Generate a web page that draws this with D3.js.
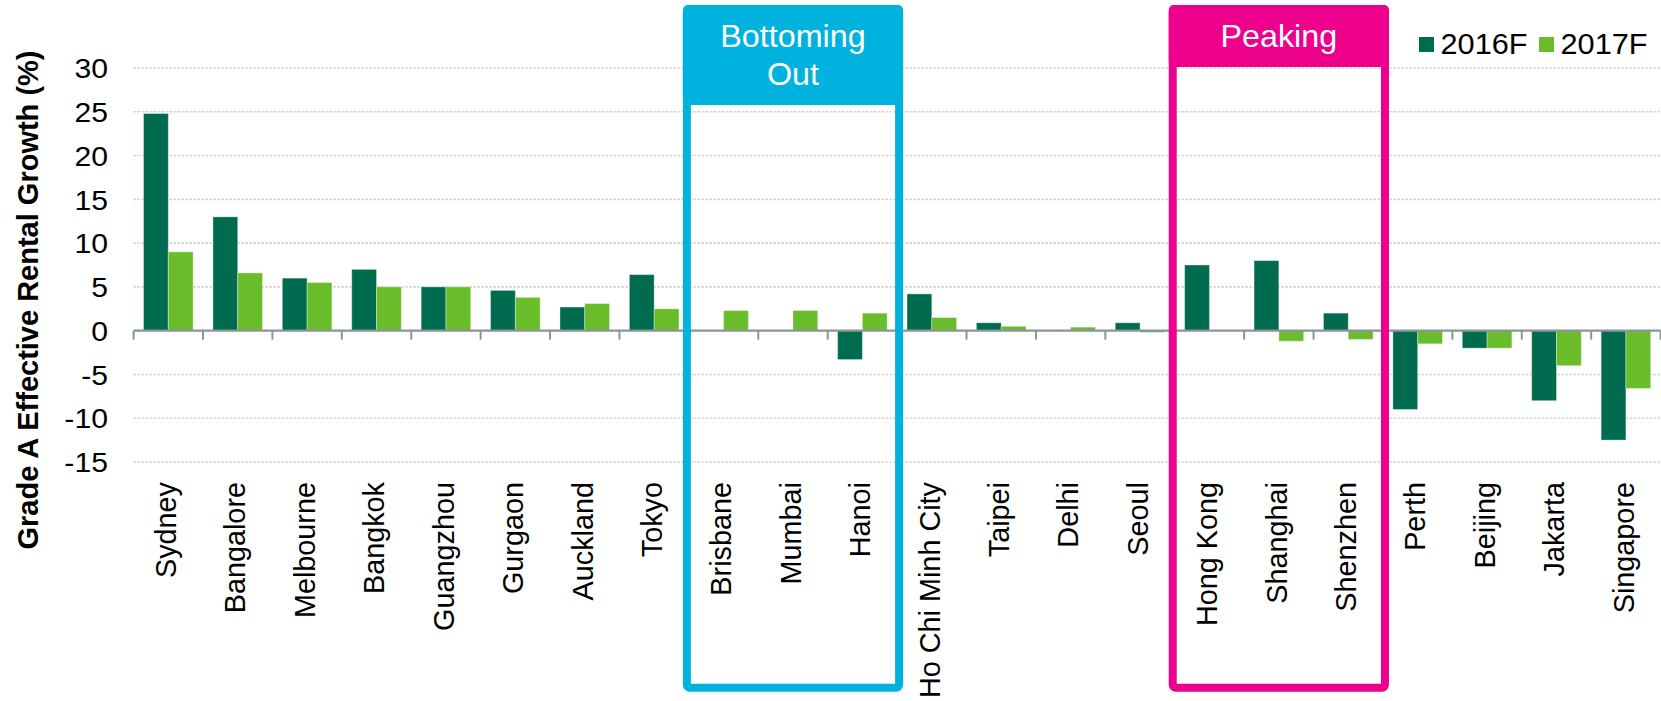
<!DOCTYPE html>
<html>
<head>
<meta charset="utf-8">
<script src="https://cdn.jsdelivr.net/npm/d3@7"></script>
<style>
  html, body { margin: 0; padding: 0; background: #fff; }
  svg { display: block; font-family: "Liberation Sans", Arial, sans-serif; }
</style>
</head>
<body>
<svg id="chart" width="1661" height="701"></svg>
<script>
// Grade A effective rental growth forecasts by city (%)
const cities = ["Sydney", "Bangalore", "Melbourne", "Bangkok", "Guangzhou", "Gurgaon", "Auckland", "Tokyo",
  "Brisbane", "Mumbai", "Hanoi", "Ho Chi Minh City", "Taipei", "Delhi", "Seoul",
  "Hong Kong", "Shanghai", "Shenzhen", "Perth", "Beijing", "Jakarta", "Singapore"];
const series = ["2016F", "2017F"];
const growth2016 = [24.8, 13.0, 6.0, 7.0, 5.0, 4.6, 2.7, 6.4, null, null, -3.3, 4.2, 0.9, null, 0.9, 7.5, 8.0, 2.0, -9.0, -2.0, -8.0, -12.5];
const growth2017 = [9.0, 6.6, 5.5, 5.0, 5.0, 3.8, 3.1, 2.5, 2.3, 2.3, 2.0, 1.5, 0.5, 0.4, -0.2, null, -1.2, -1.0, -1.5, -2.0, -4.0, -6.6];
const yTicks = [-15, -10, -5, 0, 5, 10, 15, 20, 25, 30];
const phases = [
  { label: ["Bottoming", "Out"], from: "Brisbane", to: "Hanoi", color: "#00B2DE", header: 105 },
  { label: ["Peaking"], from: "Hong Kong", to: "Shenzhen", color: "#EC008C", header: 67 }
];
const colors = { "2016F": "#006B4E", "2017F": "#6ABD2A" };

const svg = d3.select("#chart");
const plotLeft = 133.6, plotRight = 1660.6, plotTop = 68, plotBottom = 462;
const stretch = 1.06; // horizontal text widening

const x = d3.scaleBand().domain(cities).range([plotLeft, plotRight]).paddingInner(0).paddingOuter(0);
const xs = d3.scaleBand().domain(series).range([0, x.bandwidth()]).paddingInner(0).paddingOuter(0.4);
const y = d3.scaleLinear().domain([-15, 30]).range([plotBottom, plotTop]);

// dotted gridlines
svg.append("g").selectAll("line")
  .data(yTicks.filter(t => t !== 0))
  .join("line")
  .attr("x1", plotLeft).attr("x2", plotRight)
  .attr("y1", d => y(d)).attr("y2", d => y(d))
  .attr("stroke", "#c9c9c9").attr("stroke-width", 1.6)
  .attr("stroke-dasharray", "2,2");

// y tick labels
svg.append("g").selectAll("text")
  .data(yTicks)
  .join("text")
  .attr("transform", d => `translate(108,${y(d)}) scale(${stretch},1)`)
  .attr("dy", "0.36em")
  .attr("text-anchor", "end")
  .attr("font-size", 28.5)
  .attr("fill", "#000")
  .text(d => d);

// y axis title
svg.append("text")
  .attr("transform", "translate(38,300) rotate(-90)")
  .attr("text-anchor", "middle")
  .attr("font-size", 29)
  .attr("font-weight", "bold")
  .attr("fill", "#000")
  .text("Grade A Effective Rental Growth (%)");

// bars
const rows = cities.map((c, i) => ({ city: c, vals: [
  { key: "2016F", v: growth2016[i] },
  { key: "2017F", v: growth2017[i] }
] }));

const groups = svg.append("g").selectAll("g")
  .data(rows)
  .join("g")
  .attr("transform", d => `translate(${x(d.city)},0)`);

groups.selectAll("rect")
  .data(d => d.vals.filter(v => v.v !== null))
  .join("rect")
  .attr("x", d => xs(d.key))
  .attr("width", xs.bandwidth())
  .attr("y", d => y(Math.max(0, d.v)))
  .attr("height", d => Math.abs(y(d.v) - y(0)))
  .attr("fill", d => colors[d.key])
  .attr("stroke", "#ffffff").attr("stroke-opacity", 0.35).attr("stroke-width", 1);

// zero axis with category boundary ticks
const axisColor = "#8a959a";
svg.append("line")
  .attr("x1", plotLeft).attr("x2", plotRight)
  .attr("y1", y(0)).attr("y2", y(0))
  .attr("stroke", axisColor).attr("stroke-width", 2.4);
const boundaries = cities.map(c => x(c)).concat([x(cities[cities.length - 1]) + x.bandwidth()]);
svg.append("g").selectAll("line")
  .data(boundaries)
  .join("line")
  .attr("x1", d => d).attr("x2", d => d)
  .attr("y1", y(0)).attr("y2", y(0) + 9)
  .attr("stroke", axisColor).attr("stroke-width", 2);

// category labels
svg.append("g").selectAll("text")
  .data(cities)
  .join("text")
  .attr("transform", d => `translate(${x(d) + x.bandwidth() / 2},482) rotate(-90)`)
  .attr("dy", "0.27em")
  .attr("text-anchor", "end")
  .attr("font-size", 28.8)
  .attr("fill", "#000")
  .text(d => d);

// market phase boxes
phases.forEach(p => {
  const x0 = x(p.from) - 2;
  const x1 = x(p.to) + x.bandwidth() + 2;
  const g = svg.append("g");
  g.append("rect")
    .attr("x", x0 - 4).attr("y", 5)
    .attr("width", x1 - x0 + 8).attr("height", p.header - 5)
    .attr("rx", 5)
    .attr("fill", p.color);
  g.append("rect")
    .attr("x", x0).attr("y", 9)
    .attr("width", x1 - x0).attr("height", 678.7)
    .attr("rx", 3)
    .attr("fill", "none")
    .attr("stroke", p.color).attr("stroke-width", 8);
  const cx = (x0 + x1) / 2;
  p.label.forEach((line, i) => {
    g.append("text")
      .attr("transform", `translate(${cx},${46.7 + i * 38}) scale(${stretch},1)`)
      .attr("text-anchor", "middle")
      .attr("font-size", 30.5)
      .attr("fill", "#fff")
      .text(line);
  });
});

// legend
const legendX = [1419, 1539];
const legend = svg.append("g").selectAll("g")
  .data(series)
  .join("g")
  .attr("transform", (d, i) => `translate(${legendX[i]},0)`);
legend.append("rect")
  .attr("x", 0).attr("y", 37).attr("width", 15).attr("height", 15)
  .attr("fill", d => colors[d]);
legend.append("text")
  .attr("transform", `translate(21.5,54) scale(${stretch},1)`)
  .attr("font-size", 29)
  .attr("fill", "#000")
  .text(d => d);
</script>
</body>
</html>
